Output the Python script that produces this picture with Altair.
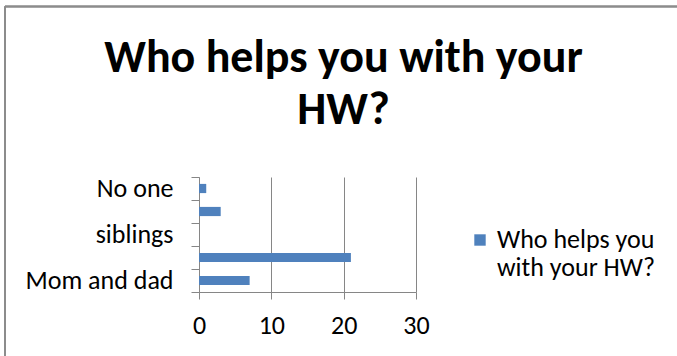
import json
import altair as alt
import pandas as pd

# Survey answers, listed bottom-to-top as they appear on the category axis
CATEGORIES = ["Mom and dad", "Mom", "siblings", "Dad", "No one"]
COUNTS = [7, 21, 0, 3, 1]
# Only every other category name is printed on the axis
SHOWN_LABELS = ["Mom and dad", "siblings", "No one"]
X_TICKS = [0, 10, 20, 30]
SERIES = "Who helps you with your HW?"
SERIES_LINES = ["Who helps you", "with your HW?"]
TITLE_LINES = ["Who helps you with your", "HW?"]

BAR_BLUE = "#4F81BD"
GRID_GRAY = "#868686"
FONT = "Carlito, Lato, sans-serif"

df = pd.DataFrame({"who": CATEGORIES, "count": COUNTS, "series": SERIES})

bars = alt.Chart(df).mark_bar(height=alt.RelativeBandSize(0.4)).encode(
    x=alt.X(
        "count:Q",
        scale=alt.Scale(domain=[0, 30], nice=False),
        axis=alt.Axis(
            values=X_TICKS,
            title=None,
            grid=True,
            gridColor=GRID_GRAY,
            domainColor=GRID_GRAY,
            tickColor=GRID_GRAY,
            tickSize=7,
            labelPadding=13,
            labelFlush=False,
        ),
    ),
    y=alt.Y(
        "who:N",
        sort=CATEGORIES[::-1],
        scale=alt.Scale(paddingInner=0, paddingOuter=0),
        axis=alt.Axis(
            title=None,
            tickBand="extent",
            tickSize=8,
            domainColor=GRID_GRAY,
            tickColor=GRID_GRAY,
            labelPadding=18,
            labelLimit=300,
            labelExpr=f"indexof({json.dumps(SHOWN_LABELS)}, datum.label) >= 0 ? datum.label : ''",
        ),
    ),
    color=alt.Color(
        "series:N",
        scale=alt.Scale(range=[BAR_BLUE]),
        legend=alt.Legend(
            title=None,
            orient="none",
            legendX=268,
            legendY=50,
            symbolType="square",
            symbolSize=130,
            symbolStrokeWidth=0,
            labelExpr=json.dumps(SERIES_LINES),
            labelBaseline="middle",
            labelOffset=4,
            labelLimit=300,
        ),
    ),
)

# Outer chart frame (top and left edges)
frame_top = alt.Chart(df).mark_rule(color="#8c8c8c", strokeWidth=1.5).encode(
    x=alt.value(-194), x2=alt.value(500), y=alt.value(-170.5)
)
frame_left = alt.Chart(df).mark_rule(color="#8c8c8c", strokeWidth=1.5).encode(
    x=alt.value(-194), y=alt.value(-170.5), y2=alt.value(200)
)

chart = (
    alt.layer(frame_top, frame_left, bars)
    .properties(
        width=217,
        height=115,
        autosize=alt.AutoSizeParams(type="none"),
        padding={"left": 199, "top": 177, "right": 261, "bottom": 64},
        title=alt.TitleParams(
            text=TITLE_LINES,
            font=FONT,
            fontSize=46,
            fontWeight="bold",
            color="black",
            anchor="middle",
            dx=36,
            offset=-128,
            lineHeight=52,
        ),
    )
    .configure_view(stroke=None)
    .configure_axis(labelFont=FONT, labelFontSize=26, labelColor="black")
    .configure_legend(labelFont=FONT, labelFontSize=26, labelColor="black")
)

chart.save("out.html", embed_options={"renderer": "svg", "actions": False})
